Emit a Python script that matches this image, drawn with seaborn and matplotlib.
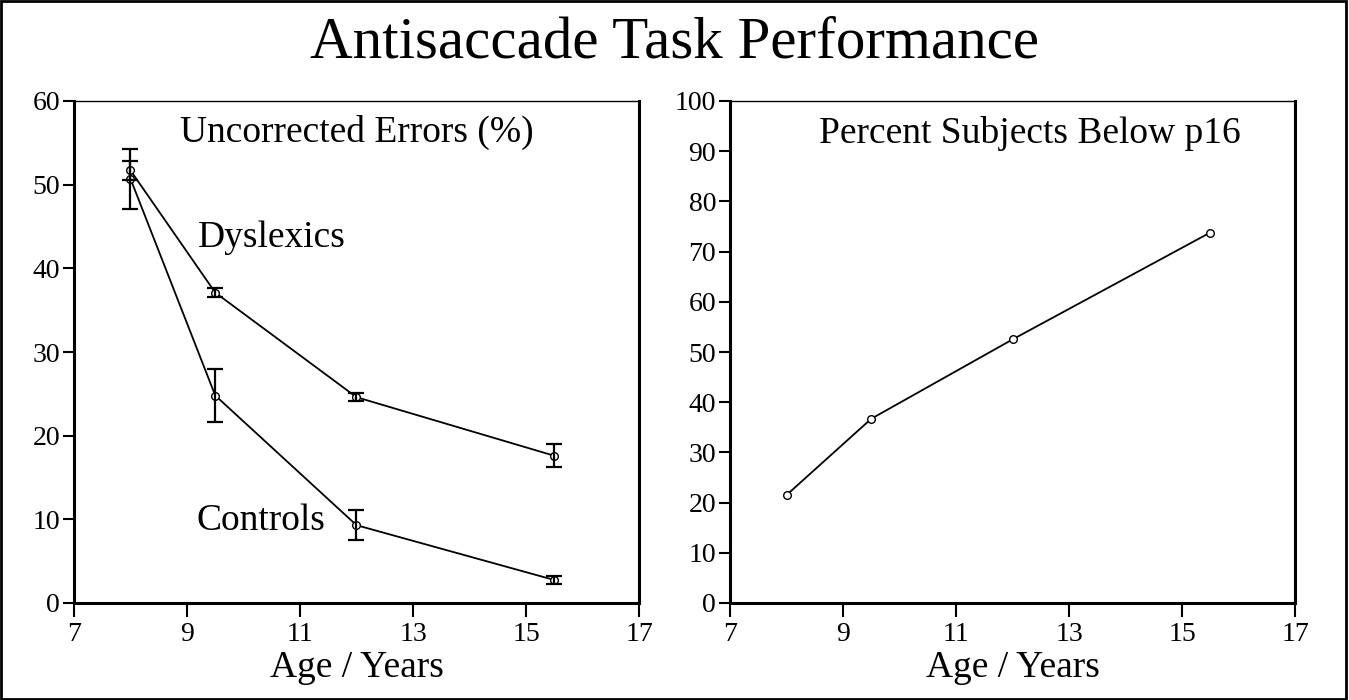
import numpy as np
import pandas as pd
import matplotlib
matplotlib.use("Agg")
import matplotlib.pyplot as plt
from matplotlib.patches import Rectangle
import seaborn as sns

# ==========================================
# Data
# ==========================================
ages = [8.0, 9.5, 12.0, 15.5]

dyslexic_err = [51.7, 37.1, 24.6, 17.6]
dyslexic_sem = [1.1, 0.5, 0.5, 1.35]
control_err = [50.7, 24.8, 9.3, 2.75]
control_sem = [3.6, 3.2, 1.8, 0.5]

pct_below_p16 = [21.5, 36.7, 52.5, 73.8]

x_ticks = [7, 9, 11, 13, 15, 17]
left_y_ticks = [0, 10, 20, 30, 40, 50, 60]
right_y_ticks = [0, 10, 20, 30, 40, 50, 60, 70, 80, 90, 100]

# ==========================================
# Style
# ==========================================
sns.set_style("white")
plt.rcParams['font.family'] = ['Liberation Serif', 'DejaVu Serif']
plt.rcParams['text.color'] = 'black'
plt.rcParams['axes.labelcolor'] = 'black'
plt.rcParams['xtick.color'] = 'black'
plt.rcParams['ytick.color'] = 'black'

fig = plt.figure(figsize=(13.49, 7.0), dpi=100)
ax1 = fig.add_axes([74 / 1349, 97 / 700, 565 / 1349, 502 / 700])
ax2 = fig.add_axes([730 / 1349, 97 / 700, 565 / 1349, 502 / 700])

err_df = pd.DataFrame({
    'Age': ages * 2,
    'Error': dyslexic_err + control_err,
    'Group': ['Dyslexics'] * 4 + ['Controls'] * 4,
})
p16_df = pd.DataFrame({'Age': ages, 'Percent': pct_below_p16})

line_kw = dict(color='black', linewidth=1.3, marker='o', markersize=5.5,
               markerfacecolor='white', markeredgecolor='black', markeredgewidth=1.0)

# Left panel: uncorrected errors
for grp in ['Dyslexics', 'Controls']:
    sub = err_df[err_df['Group'] == grp]
    sns.lineplot(data=sub, x='Age', y='Error', ax=ax1, legend=False, **line_kw)

ax1.errorbar(ages, dyslexic_err, yerr=dyslexic_sem, fmt='none', ecolor='black',
             elinewidth=1.6, capsize=6, capthick=1.6)
ax1.errorbar(ages, control_err, yerr=control_sem, fmt='none', ecolor='black',
             elinewidth=1.6, capsize=6, capthick=1.6)

ax1.set_ylim(0, 60)
ax1.set_yticks(left_y_ticks)
ax1.text(12.0, 55.1, "Uncorrected Errors (%)", ha='center', va='baseline', fontsize=27)
ax1.text(10.5, 42.5, "Dyslexics", ha='center', va='baseline', fontsize=27)
ax1.text(10.3, 8.7, "Controls", ha='center', va='baseline', fontsize=27)

# Right panel: percent subjects below p16
sns.lineplot(data=p16_df, x='Age', y='Percent', ax=ax2, legend=False, **line_kw)
ax2.set_ylim(0, 100)
ax2.set_yticks(right_y_ticks)
ax2.text(12.3, 91.6, "Percent Subjects Below p16", ha='center', va='baseline', fontsize=27)

for ax in (ax1, ax2):
    ax.set_xlim(7, 17)
    ax.set_xticks(x_ticks)
    ax.set_xlabel("Age / Years", fontsize=27, labelpad=2)
    ax.set_ylabel("")
    ax.tick_params(axis='both', direction='out', labelsize=20, colors='black')
    ax.tick_params(axis='x', length=10, width=1.5, pad=4)
    ax.tick_params(axis='y', length=8, width=1.5, pad=2)
    ax.tick_params(left=True, bottom=True)
    for side in ['left', 'bottom', 'right']:
        ax.spines[side].set_linewidth(2.2)
        ax.spines[side].set_color('black')
    ax.spines['top'].set_linewidth(1.0)
    ax.spines['top'].set_color('black')
    ax.grid(False)

fig.text(0.5, 1 - 57 / 700, "Antisaccade Task Performance", ha='center', va='baseline',
         fontsize=42.5, color='black')

# outer frame
fig.patches.append(Rectangle((0.001, 0.002), 0.997, 0.996, transform=fig.transFigure,
                             fill=False, edgecolor='black', linewidth=2.0))

fig.savefig("out.png", dpi=100)
plt.close(fig)
